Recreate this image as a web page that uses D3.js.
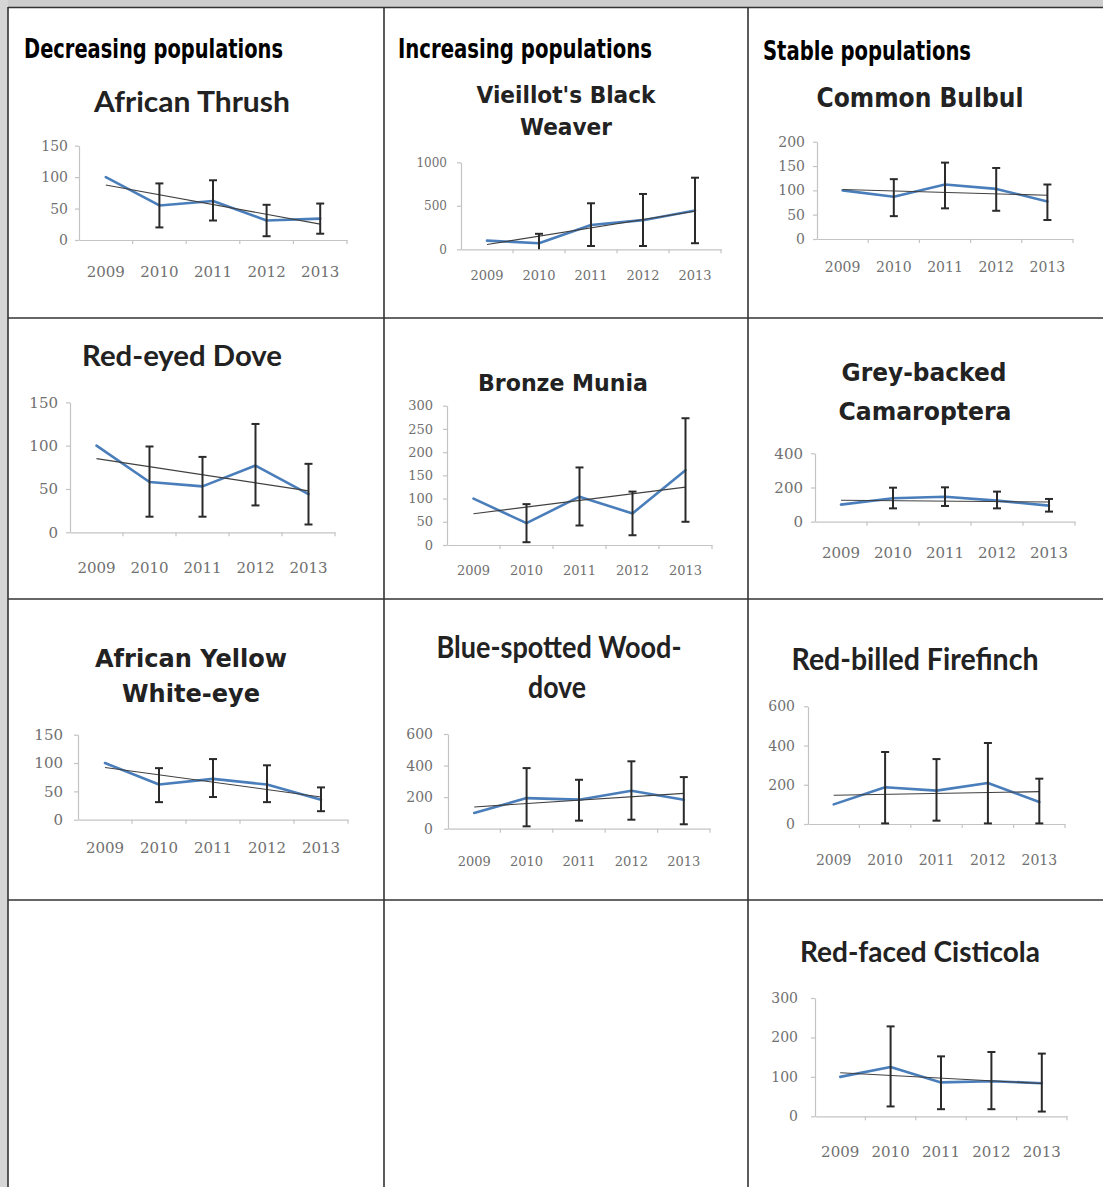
<!DOCTYPE html>
<html><head><meta charset="utf-8">
<script src="https://cdn.jsdelivr.net/npm/d3@7/dist/d3.min.js"></script>
<style>body{margin:0;background:#fff}svg{display:block}</style>
</head><body><svg id="c" width="1103" height="1187"></svg>
<script>
// ---------- DATA ----------
const years = ["2009","2010","2011","2012","2013"];
const groupHeaders = ["Decreasing populations","Increasing populations","Stable populations"];

const africanThrush   = [100,55,62,31,34];
const africanThrushLo = [null,20,31,6,10];
const africanThrushHi = [null,90,95,56,58];
const africanThrushTicks = [0,50,100,150];

const blackWeaver   = [100,70,280,335,445];
const blackWeaverLo = [null,0,38,38,70];
const blackWeaverHi = [null,178,529,636,823];
const blackWeaverTicks = [0,500,1000];

const commonBulbul   = [100,87,112,103,77];
const commonBulbulLo = [null,47,63,58,39];
const commonBulbulHi = [null,123,157,146,112];
const commonBulbulTicks = [0,50,100,150,200];

const redEyedDove   = [100,58,53,77,44];
const redEyedDoveLo = [null,18,18,31,9];
const redEyedDoveHi = [null,99,87,125,79];
const redEyedDoveTicks = [0,50,100,150];

const bronzeMunia   = [100,47,104,68,161];
const bronzeMuniaLo = [null,6,42,21,50];
const bronzeMuniaHi = [null,88,167,115,273];
const bronzeMuniaTicks = [0,50,100,150,200,250,300];

const camaroptera   = [100,137,146,123,94];
const camaropteraLo = [null,78,92,78,59];
const camaropteraHi = [null,199,201,176,133];
const camaropteraTicks = [0,200,400];

const yellowWhiteEye   = [100,62,72,62,35];
const yellowWhiteEyeLo = [null,31,40,31,15];
const yellowWhiteEyeHi = [null,91,107,96,57];
const yellowWhiteEyeTicks = [0,50,100,150];

const woodDove   = [100,194,184,241,184];
const woodDoveLo = [null,15,51,57,28];
const woodDoveHi = [null,384,310,427,327];
const woodDoveTicks = [0,200,400,600];

const firefinch   = [100,187,170,209,112];
const firefinchLo = [null,3,17,3,3];
const firefinchHi = [null,367,331,413,231];
const firefinchTicks = [0,200,400,600];

const cisticola   = [100,125,86,89,84];
const cisticolaLo = [null,25,18,18,12];
const cisticolaHi = [null,228,152,163,159];
const cisticolaTicks = [0,100,200,300];

// ---------- LAYOUT ----------
const FA = "'DejaVu Sans', Verdana, sans-serif";
const FB = "Lato, 'Open Sans', sans-serif";
const panels = [
 {v:africanThrush, lo:africanThrushLo, hi:africanThrushHi, ticks:africanThrushTicks,
  x0:79,x1:347,yz:240,yt:145.7,lr:68,xb:277,fy:14,fx:15,
  title:[["African Thrush",192,112,196]], ts:28, tf:FB},
 {v:blackWeaver, lo:blackWeaverLo, hi:blackWeaverHi, ticks:blackWeaverTicks,
  x0:461,x1:721,yz:249.3,yt:162.3,lr:447,xb:280,fy:12,fx:13,
  title:[["Vieillot's Black",566,103,179],["Weaver",566,135,92]], ts:23, tf:FA},
 {v:commonBulbul, lo:commonBulbulLo, hi:commonBulbulHi, ticks:commonBulbulTicks,
  x0:817,x1:1073,yz:239,yt:141.7,lr:805,xb:272,fy:14,fx:14,
  title:[["Common Bulbul",920,107,207]], ts:26, tf:FA},
 {v:redEyedDove, lo:redEyedDoveLo, hi:redEyedDoveHi, ticks:redEyedDoveTicks,
  x0:70,x1:335,yz:532.3,yt:402.3,lr:58,xb:573,fy:15,fx:15,
  title:[["Red-eyed Dove",182,365.7,200]], ts:29, tf:FB},
 {v:bronzeMunia, lo:bronzeMuniaLo, hi:bronzeMuniaHi, ticks:bronzeMuniaTicks,
  x0:447,x1:712,yz:545,yt:405.7,lr:433,xb:575,fy:13,fx:13,
  title:[["Bronze Munia",563,390.7,170]], ts:23, tf:FA},
 {v:camaroptera, lo:camaropteraLo, hi:camaropteraHi, ticks:camaropteraTicks,
  x0:815,x1:1075,yz:521.7,yt:453.3,lr:803,xb:557.7,fy:15,fx:15,
  title:[["Grey-backed",924,381,165],["Camaroptera",925,420,173]], ts:25, tf:FA},
 {v:yellowWhiteEye, lo:yellowWhiteEyeLo, hi:yellowWhiteEyeHi, ticks:yellowWhiteEyeTicks,
  x0:78,x1:348,yz:819.7,yt:734.7,lr:63,xb:853,fy:15,fx:15,
  title:[["African Yellow",191,667,192],["White-eye",191,702,138]], ts:24, tf:FA},
 {v:woodDove, lo:woodDoveLo, hi:woodDoveHi, ticks:woodDoveTicks,
  x0:448,x1:710,yz:828.7,yt:734,lr:433,xb:865.7,fy:14,fx:13,
  title:[["Blue-spotted Wood-",559,658,245],["dove",557,698,58]], ts:30, tf:FB},
 {v:firefinch, lo:firefinchLo, hi:firefinchHi, ticks:firefinchTicks,
  x0:808,x1:1065,yz:824,yt:706.3,lr:795,xb:864.7,fy:14,fx:14,
  title:[["Red-billed Firefinch",915,669.7,247]], ts:30, tf:FB},
 {v:cisticola, lo:cisticolaLo, hi:cisticolaHi, ticks:cisticolaTicks,
  x0:815,x1:1067,yz:1116.3,yt:998,lr:798,xb:1157,fy:14,fx:15,
  title:[["Red-faced Cisticola",920,962.3,240]], ts:28, tf:FB}
];
const headerPos = [[24,57.5,259],[398,57.5,254],[763,60,208]];

// ---------- DRAW ----------
const svg = d3.select("#c");
svg.append("rect").attr("width",1103).attr("height",1187).attr("fill","#fff");
svg.append("rect").attr("x",0).attr("y",0).attr("width",1103).attr("height",7).attr("fill","#cdcdcd");
svg.append("rect").attr("x",0).attr("y",0).attr("width",8).attr("height",1187).attr("fill","#d6d6d6");

const grid = svg.append("g").attr("stroke","#333").attr("stroke-width",1.6);
[8,384,748].forEach(x=>grid.append("line").attr("x1",x).attr("x2",x).attr("y1",7).attr("y2",1187));
[7.5,318,599,900].forEach(y=>grid.append("line").attr("x1",8).attr("x2",1103).attr("y1",y).attr("y2",y));

groupHeaders.forEach((h,i)=>{
  const [x,y,w] = headerPos[i];
  svg.append("text").attr("x",x).attr("y",y).text(h)
    .attr("font-family","'Liberation Sans Narrow','DejaVu Sans Condensed',sans-serif")
    .attr("font-weight","bold").attr("font-size",27).attr("fill","#000")
    .attr("textLength",w).attr("lengthAdjust","spacingAndGlyphs");
});

panels.forEach(p=>{
  const g = svg.append("g");
  const x = d3.scaleBand().domain(years).range([p.x0,p.x1]).padding(0);
  const y = d3.scaleLinear().domain([0, d3.max(p.ticks)]).range([p.yz,p.yt]);
  const bw = x.bandwidth();
  const cx = d => x(d) + bw/2;

  // title
  p.title.forEach(([t,tx,ty,tw])=>{
    g.append("text").attr("x",tx).attr("y",ty).attr("text-anchor","middle").text(t)
      .attr("font-family",p.tf).attr("font-weight","bold").attr("font-size",p.ts)
      .attr("fill","#222").attr("textLength",tw).attr("lengthAdjust","spacingAndGlyphs");
  });

  // y axis
  const ya = g.append("g").attr("transform",`translate(${p.x0},0)`)
    .call(d3.axisLeft(y).tickValues(p.ticks).tickFormat(d3.format("d"))
      .tickSize(4).tickSizeOuter(0).tickPadding(p.x0-p.lr-4));
  ya.select(".domain").attr("stroke","#c4c4c4").attr("stroke-width",1.2);
  ya.selectAll(".tick line").attr("stroke","#c4c4c4").attr("stroke-width",1.2);
  ya.selectAll(".tick text").attr("font-family","'DejaVu Serif',serif").attr("font-size",p.fy)
    .attr("fill","#707070");

  // x axis
  const xa = g.append("g").attr("transform",`translate(0,${p.yz})`)
    .call(d3.axisBottom(x).tickSize(0).tickSizeOuter(0).tickFormat(""));
  xa.select(".domain").attr("stroke","#c4c4c4").attr("stroke-width",1.2);
  xa.selectAll(".tick").remove();
  g.selectAll(".bt").data(years).enter().append("line")
    .attr("x1",d=>x(d)+bw).attr("x2",d=>x(d)+bw).attr("y1",p.yz).attr("y2",p.yz+4)
    .attr("stroke","#c4c4c4").attr("stroke-width",1.2);
  g.selectAll(".xl").data(years).enter().append("text")
    .attr("x",d=>cx(d)).attr("y",p.xb).attr("text-anchor","middle").text(d=>d)
    .attr("font-family","'DejaVu Serif',serif").attr("font-size",p.fx).attr("fill","#707070");

  const pts = years.map((yr,i)=>({yr, v:p.v[i], lo:p.lo[i], hi:p.hi[i], i}));

  // series line
  g.append("path").datum(pts)
    .attr("d", d3.line().x(d=>cx(d.yr)).y(d=>y(d.v)))
    .attr("fill","none").attr("stroke","#4a7ebb").attr("stroke-width",2.6)
    .attr("stroke-linejoin","round").attr("stroke-linecap","round");

  // linear trend (least squares over the series)
  const n = pts.length, mx = d3.mean(pts,d=>d.i), my = d3.mean(pts,d=>d.v);
  const slope = d3.sum(pts,d=>(d.i-mx)*(d.v-my)) / d3.sum(pts,d=>(d.i-mx)*(d.i-mx));
  const f = i => my + slope*(i-mx);
  g.append("line")
    .attr("x1",cx(years[0])).attr("y1",y(f(0)))
    .attr("x2",cx(years[n-1])).attr("y2",y(f(n-1)))
    .attr("stroke","#404040").attr("stroke-width",1.1);

  // error bars
  const eb = pts.filter(d=>d.hi!=null);
  const eg = g.append("g").attr("stroke","#2a2a2a").attr("stroke-width",2);
  eb.forEach(d=>{
    const X = cx(d.yr), lo = Math.max(0,d.lo);
    eg.append("line").attr("x1",X).attr("x2",X).attr("y1",y(lo)).attr("y2",y(d.hi));
    eg.append("line").attr("x1",X-4).attr("x2",X+4).attr("y1",y(d.hi)).attr("y2",y(d.hi));
    if (d.lo>0) eg.append("line").attr("x1",X-4).attr("x2",X+4).attr("y1",y(lo)).attr("y2",y(lo));
  });
});
</script></body></html>
